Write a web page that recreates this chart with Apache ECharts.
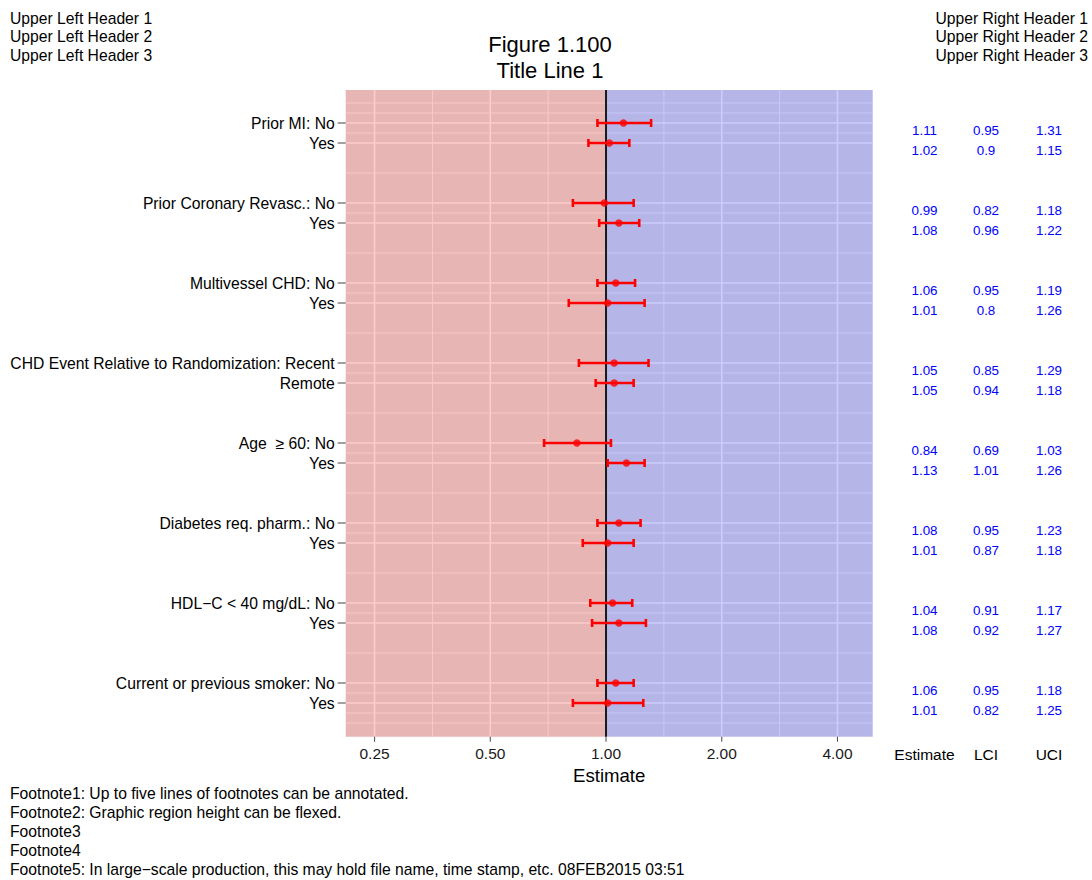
<!DOCTYPE html>
<html><head><meta charset="utf-8">
<script src="https://cdn.jsdelivr.net/npm/echarts@6/dist/echarts.min.js"></script>
<style>html,body{margin:0;padding:0;background:#fff}#c{width:1092px;height:880px}</style>
</head><body><div id="c"></div>
<script>
// ---- data ----
const rowLabels = ["Prior MI: No","Yes","Prior Coronary Revasc.: No","Yes","Multivessel CHD: No","Yes",
  "CHD Event Relative to Randomization: Recent","Remote","Age  \u2265 60: No","Yes",
  "Diabetes req. pharm.: No","Yes","HDL\u2212C < 40 mg/dL: No","Yes","Current or previous smoker: No","Yes"];
const rowPos = [0,1,4,5,8,9,12,13,16,17,20,21,24,25,28,29];
const estimate = [1.11,1.02,0.99,1.08,1.06,1.01,1.05,1.05,0.84,1.13,1.08,1.01,1.04,1.08,1.06,1.01];
const lci = [0.95,0.9,0.82,0.96,0.95,0.8,0.85,0.94,0.69,1.01,0.95,0.87,0.91,0.92,0.95,0.82];
const uci = [1.31,1.15,1.18,1.22,1.19,1.26,1.29,1.18,1.03,1.26,1.23,1.18,1.17,1.27,1.18,1.25];
const xTicks = [0.25,0.5,1,2,4];
const xMinorBreaks = [0.3536,0.7071,1.4142,2.8284];
const yMinorBreaks = [-1,-0.5,0.5,2.5,4.5,6.5,8.5,10.5,12.5,14.5,16.5,18.5,20.5,22.5,24.5,26.5,28.5,29.5,30];
const tableHeaders = ["Estimate","LCI","UCI"];
const leftHeaders = ["Upper Left Header 1","Upper Left Header 2","Upper Left Header 3"];
const rightHeaders = ["Upper Right Header 1","Upper Right Header 2","Upper Right Header 3"];
const titleLines = ["Figure 1.100","Title Line 1"];
const footnotes = ["Footnote1: Up to five lines of footnotes can be annotated.",
  "Footnote2: Graphic region height can be flexed.","Footnote3","Footnote4",
  "Footnote5: In large\u2212scale production, this may hold file name, time stamp, etc. 08FEB2015 03:51"];

// ---- layout ----
const FONT = '"Liberation Sans", Arial, Helvetica, sans-serif';
const xMin = 0.2103, xMax = 4.94, yMin = -1.65, yMax = 30.685;
const G = {left: 345.7, right: 219.3, top: 90, bottom: 143.3};
const tableOffsets = [51.8, 113.3, 176.3];
const LABEL_PX = 15.7;
const mctx = document.createElement('canvas').getContext('2d');
mctx.font = LABEL_PX + 'px ' + FONT;

const chart = echarts.init(document.getElementById('c'), null, {renderer: 'svg'});

function renderPanel(params, api) {
  const cs = params.coordSys;
  const xm = api.coord([1, yMin])[0];
  const x0 = cs.x, x1 = cs.x + cs.width, y0 = cs.y, y1 = cs.y + cs.height;
  const ch = [];
  ch.push({type:'rect', shape:{x:x0, y:y0, width:xm-x0, height:y1-y0}, style:{fill:'#e8b5b5'}});
  ch.push({type:'rect', shape:{x:xm, y:y0, width:x1-xm, height:y1-y0}, style:{fill:'#b5b5e8'}});
  const redC = '#ffcccc', blueC = '#ccccff';
  const hline = (v, w) => {
    const y = api.coord([1, v])[1];
    ch.push({type:'line', shape:{x1:x0, y1:y, x2:xm, y2:y}, style:{stroke:redC, lineWidth:w}});
    ch.push({type:'line', shape:{x1:xm, y1:y, x2:x1, y2:y}, style:{stroke:blueC, lineWidth:w}});
  };
  const vline = (v, w) => {
    const x = api.coord([v, yMin])[0];
    ch.push({type:'line', shape:{x1:x, y1:y0, x2:x, y2:y1}, style:{stroke: v < 1 ? redC : blueC, lineWidth:w}});
  };
  yMinorBreaks.forEach(v => hline(v, 0.8));
  xMinorBreaks.forEach(v => vline(v, 0.8));
  rowPos.forEach(v => hline(v, 1.6));
  xTicks.forEach(v => vline(v, 1.6));
  ch.push({type:'line', shape:{x1:xm, y1:y0, x2:xm, y2:y1}, style:{stroke:'#1a1a1a', lineWidth:2}});
  xTicks.forEach(v => {
    const x = api.coord([v, yMin])[0];
    ch.push({type:'line', shape:{x1:x, y1:y1, x2:x, y2:y1+5}, style:{stroke:'#555', lineWidth:1.1}});
  });
  return {type:'group', children: ch};
}

// Labels with runs of spaces are laid out word by word (SVG collapses whitespace)
function labelElements(label, xr, y) {
  const st = t => ({text: t, font: LABEL_PX + 'px ' + FONT, fill:'#000', align:'right', verticalAlign:'middle'});
  if (label.indexOf('  ') < 0) return [{type:'text', x:xr, y:y, style: st(label)}];
  const words = label.split(' ');
  const sp = mctx.measureText(' ').width;
  const out = [];
  let x = xr;
  for (let k = words.length - 1; k >= 0; k--) {
    const w = words[k];
    if (w) { out.push({type:'text', x:x, y:y, style: st(w)}); x -= mctx.measureText(w).width; }
    if (k > 0) x -= sp;
  }
  return out;
}

function renderYLabel(params, api) {
  const p = api.coord([xMin, api.value(1)]);
  const i = api.value(2);
  return {type:'group', children:[
    {type:'line', shape:{x1:p[0]-8, y1:p[1], x2:p[0], y2:p[1]}, style:{stroke:'#555', lineWidth:1.1}}
  ].concat(labelElements(rowLabels[i], p[0]-11, p[1]+0.5))};
}

function renderTable(params, api) {
  const p = api.coord([xMax, api.value(1)]);
  const vals = [api.value(2), api.value(3), api.value(4)];
  return {type:'group', children: vals.map((v, k) => ({
    type:'text', x: p[0] + tableOffsets[k], y: p[1] + 7,
    style:{text: String(v), font: '13.4px ' + FONT, fill:'#0000ff', align:'center', verticalAlign:'middle'}
  }))};
}

function renderBar(params, api) {
  const y = api.coord([1, api.value(1)])[1];
  const xl = api.coord([api.value(2), api.value(1)])[0];
  const xr = api.coord([api.value(3), api.value(1)])[0];
  const st = {stroke:'#ff0000', lineWidth:2.6};
  return {type:'group', children:[
    {type:'line', shape:{x1:xl, y1:y, x2:xr, y2:y}, style:st},
    {type:'line', shape:{x1:xl, y1:y-4, x2:xl, y2:y+4}, style:st},
    {type:'line', shape:{x1:xr, y1:y-4, x2:xr, y2:y+4}, style:st}
  ]};
}

const graphics = [];
leftHeaders.forEach((t, k) => graphics.push({type:'text', x:10, y:18.3 + k*18.4,
  style:{text:t, font:'15.7px ' + FONT, fill:'#000', align:'left', verticalAlign:'middle'}}));
rightHeaders.forEach((t, k) => graphics.push({type:'text', x:1088, y:18.3 + k*18.4,
  style:{text:t, font:'15.7px ' + FONT, fill:'#000', align:'right', verticalAlign:'middle'}}));
titleLines.forEach((t, k) => graphics.push({type:'text', x:550, y:44 + k*26.5,
  style:{text:t, font:'22px ' + FONT, fill:'#000', align:'center', verticalAlign:'middle'}}));
footnotes.forEach((t, k) => graphics.push({type:'text', x:10, y:793.3 + k*19.1,
  style:{text:t, font:'15.7px ' + FONT, fill:'#000', align:'left', verticalAlign:'middle'}}));
tableHeaders.forEach((t, k) => graphics.push({type:'text', x: 1092 - G.right + tableOffsets[k], y:754,
  style:{text:t, font:'15.5px ' + FONT, fill:'#000', align:'center', verticalAlign:'middle'}}));

chart.setOption({
  animation: false,
  backgroundColor: '#ffffff',
  textStyle: {fontFamily: FONT},
  grid: {left: G.left, right: G.right, top: G.top, bottom: G.bottom, containLabel: false},
  xAxis: {
    type: 'log', logBase: 2, min: xMin, max: xMax,
    axisLine: {show: false}, axisTick: {show: false}, splitLine: {show: false},
    axisLabel: {show: true, margin: 8.5, fontSize: 15.5, color: '#1a1a1a', fontFamily: FONT,
      showMinLabel: false, showMaxLabel: false, formatter: v => Number(v).toFixed(2)},
    name: 'Estimate', nameLocation: 'middle', nameGap: 20,
    nameTextStyle: {fontSize: 18.6, color: '#000', fontFamily: FONT}
  },
  yAxis: {type: 'value', inverse: true, min: yMin, max: yMax, show: false, splitLine: {show: false}},
  graphic: graphics,
  series: [
    {type: 'custom', name: 'panel', z: 1, silent: true, clip: false, renderItem: renderPanel,
      data: [[1, 0]], encode: {x: 0, y: 1}},
    {type: 'custom', name: 'ylabels', z: 2, silent: true, clip: false, renderItem: renderYLabel,
      data: rowPos.map((p, i) => [xMin, p, i]), encode: {x: 0, y: 1}},
    {type: 'custom', name: 'table', z: 2, silent: true, clip: false, renderItem: renderTable,
      data: rowPos.map((p, i) => [xMax, p, estimate[i], lci[i], uci[i]]), encode: {x: 0, y: 1}},
    {type: 'custom', name: 'ci', z: 3, silent: true, clip: false, renderItem: renderBar,
      data: rowPos.map((p, i) => [estimate[i], p, lci[i], uci[i]]), encode: {x: 0, y: 1}},
    {type: 'scatter', name: 'estimate', z: 4, silent: true, symbol: 'circle', symbolSize: 7.5,
      itemStyle: {color: '#ff0000'}, data: rowPos.map((p, i) => [estimate[i], p])}
  ]
});
</script></body></html>
